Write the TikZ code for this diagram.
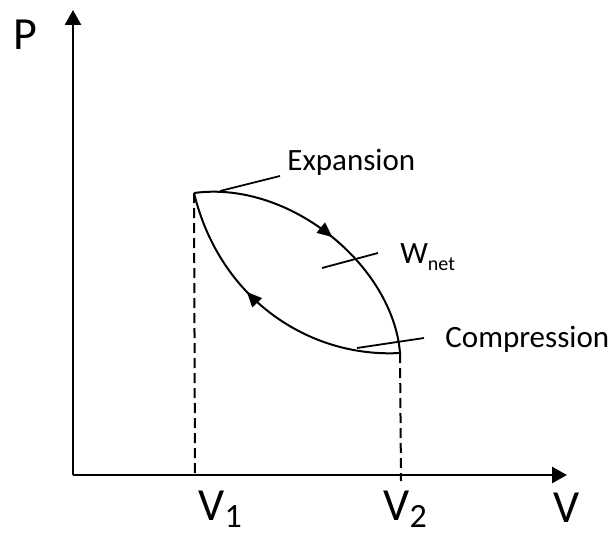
\documentclass[tikz,border=0pt]{standalone}
\usepackage{fontspec}
\setmainfont{Carlito}
\usetikzlibrary{arrows.meta,decorations.markings}

\begin{document}
\begin{tikzpicture}[x=0.5pt, y=-0.5pt, >={Triangle[length=7.5pt, width=8pt]}, ax/.style={line width=1.3pt}, loopline/.style={line width=1pt, postaction={decorate}}, lead/.style={line width=0.9pt}, drop/.style={line width=1pt, dash pattern=on 5pt off 2.5pt}, big/.style={font=\fontsize{23}{26}\selectfont, inner sep=0pt, anchor=base west}, lbl/.style={font=\fontsize{15.5}{18}\selectfont, inner sep=0pt, anchor=base west}]
	\useasboundingbox (0,0) rectangle (614,534);
	\coordinate (O) at (73,475);
	\coordinate (Ptip) at (73,10);
	\coordinate (Vtip) at (567,475);
	\coordinate (A) at (194,193);
	\coordinate (B) at (400,353);
	\coordinate (A1) at (195,475);
	\coordinate (B1) at (401,481);
	\draw[ax, ->] (O) -- (Ptip);
	\draw[ax, ->] (O) -- (Vtip);
	\draw[drop] (A) -- (A1);
	\draw[drop] (B) -- (B1);
	\draw[loopline, decoration={markings, mark=at position 0.52 with {\arrow{Triangle[length=7.5pt, width=6.5pt]}}}] (A) .. controls (290,180) and (393,266) .. (B);
	\draw[loopline, decoration={markings, mark=at position 0.6 with {\arrow{Triangle[length=7.5pt, width=6.5pt]}}}] (B) .. controls (310,358) and (220,300) .. (A);
	\node[big] (P) at (13,50) {P};
	\node[big] (V) at (553,522) {V};
	\foreach \n/\x/\s in {V1/198/1, V2/383/2} {\node[big] (\n) at (\x,520) {V\raisebox{-3.5pt}{\fontsize{17}{19}\selectfont\s}};}
	\node[lbl] (exp) at (287,170) {Expansion};
	\node[lbl] (wnet) at (400,263) {W\raisebox{-3.5pt}{\fontsize{10}{12}\selectfont net}};
	\node[lbl] (comp) at (445,347) {Compression};
	% leader lines to the labels
	\coordinate (e1) at (220,191); \coordinate (e2) at (280,176);
	\coordinate (w1) at (322,268); \coordinate (w2) at (378,253);
	\coordinate (c1) at (357,348); \coordinate (c2) at (424,338);
	\draw[lead] (e1) -- (e2);
	\draw[lead] (w1) -- (w2);
	\draw[lead] (c1) -- (c2);
\end{tikzpicture}
\end{document}
